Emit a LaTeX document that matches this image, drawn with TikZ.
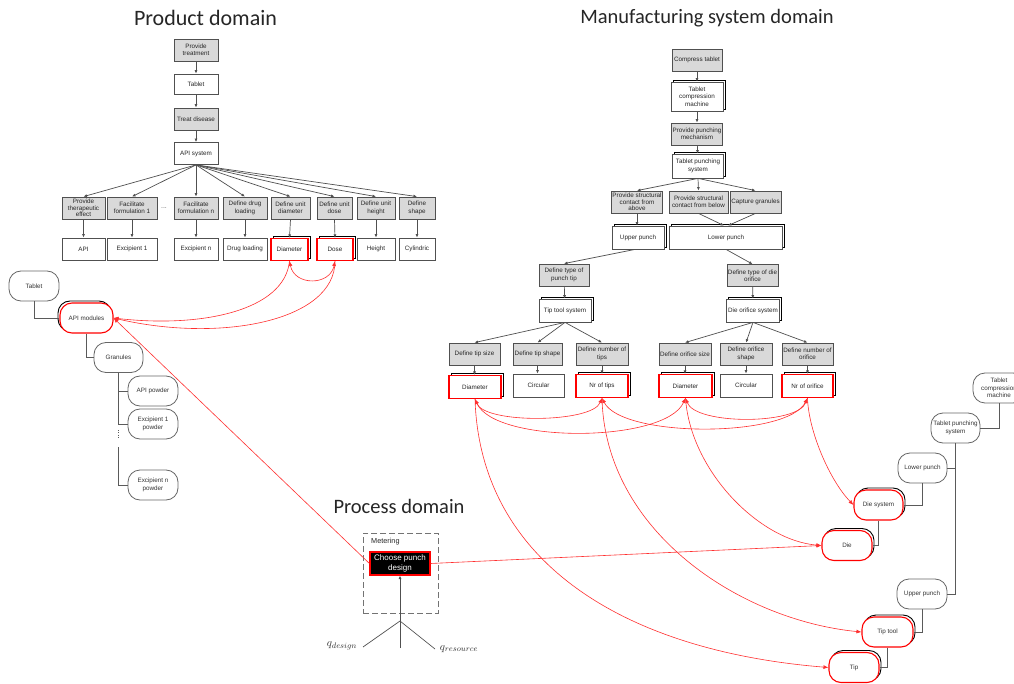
\documentclass[tikz,border=0pt]{standalone}
\usepackage{fontspec}
\setmainfont{Liberation Sans}
\newfontfamily\headfont{Carlito}
\usetikzlibrary{arrows.meta,shadows}
\definecolor{frfill}{HTML}{D9D9D9}
\definecolor{boxline}{HTML}{505050}
\definecolor{treeline}{HTML}{5A5A5A}
\definecolor{linkred}{HTML}{FF3030}
\definecolor{headtext}{HTML}{262626}
\tikzset{
  box/.style={draw=boxline, line width=0.8pt, fill=white, minimum height=22pt,
    inner sep=1pt, align=center, text=black!85,
    font=\fontsize{6.3}{7.3}\selectfont},
  frbox/.style={box, fill=frfill},
  stacked/.style={copy shadow={shadow xshift=2pt, shadow yshift=2pt, draw=black, fill=white, line width=0.9pt}},
  stackedleft/.style={copy shadow={shadow xshift=-2pt, shadow yshift=2pt, draw=black, fill=white, line width=0.9pt}},
  redbox/.style={draw=red, line width=1.1pt},
  pill/.style={draw=black!60, line width=0.8pt, fill=white, rounded corners=12pt,
    minimum height=30pt, minimum width=50pt, inner sep=1pt, align=center,
    text=black!80, font=\fontsize{6.3}{7.6}\selectfont},
  link/.style={draw=boxline, line width=0.7pt, -{Latex[length=3.5pt,width=3pt]}},
  tree/.style={draw=treeline, line width=0.8pt},
  couple/.style={draw=linkred, line width=0.6pt, -{Latex[length=5pt,width=4pt]}},
  couple2/.style={draw=linkred, line width=0.6pt, {Latex[length=5pt,width=4pt]}-{Latex[length=5pt,width=4pt]}},
  domaintitle/.style={font=\headfont\fontsize{20.5}{24}\selectfont, text=headtext, inner sep=0pt},
}
\begin{document}
\begin{tikzpicture}[x=1pt, y=-1pt]
\fill[white] (0,0) rectangle (1014,684);
\useasboundingbox (0,0) rectangle (1014,684);

% ---------- domain headings ----------
\node[domaintitle, font=\headfont\fontsize{22}{26}\selectfont] (tprod) at (205.5,18) {Product domain};
\node[domaintitle] (tman) at (707,18) {Manufacturing system domain};
\node[domaintitle] (tproc) at (399,506) {Process domain};

% ---------- product domain: FR/DP tree ----------
\node[frbox, minimum width=44pt] (pt) at (196,50) {Provide\\treatment};
\node[box, minimum width=44pt, minimum height=20pt] (ptab) at (196,84) {Tablet};
\node[frbox, minimum width=44pt] (ptd) at (196,119) {Treat disease};
\node[box, minimum width=44pt] (papi) at (196,153.5) {API system};

\node[frbox, minimum width=43pt, font=\fontsize{6.3}{6.5}\selectfont] (fa) at (83.5,208) {Provide\\therapeutic\\effect};
\node[frbox, minimum width=50pt] (fb) at (132,208) {Facilitate\\formulation 1};
\node[text=black!60, font=\fontsize{7}{8}\selectfont] (fdots) at (164,208) {...};
\node[frbox, minimum width=44pt] (fc) at (196,208) {Facilitate\\formulation n};
\node[frbox, minimum width=44pt] (fd) at (245,208) {Define drug\\loading};
\node[frbox, minimum width=39pt] (fe) at (290.5,208) {Define unit\\diameter};
\node[frbox, minimum width=35pt] (ff) at (334.5,208) {Define unit\\dose};
\node[frbox, minimum width=38pt] (fg) at (376,208) {Define unit\\height};
\node[frbox, minimum width=36pt] (fh) at (417,208) {Define\\shape};

\node[box, minimum width=43pt] (da) at (83.5,249) {API};
\node[box, minimum width=50pt] (db) at (132,249) {Excipient 1};
\node[box, minimum width=44pt] (dc) at (196,249) {Excipient n};
\node[box, minimum width=44pt] (dd) at (245,249) {Drug loading};
\node[box, stacked, redbox, minimum width=37pt] (de) at (289.5,249.5) {Diameter};
\node[box, stacked, redbox, minimum width=36pt] (df) at (335,249.5) {Dose};
\node[box, minimum width=38pt] (dg) at (376,249) {Height};
\node[box, minimum width=36pt] (dh) at (417,249) {Cylindric};

\draw[link] (pt) -- (ptab);
\draw[link] (ptab) -- (ptd);
\draw[link] (ptd) -- (papi);
\foreach \f/\d in {fa/da,fb/db,fc/dc,fd/dd,fe/de,ff/df,fg/dg,fh/dh}{
  \draw[link] (papi.south) -- (\f.north);
  \draw[link] (\f.south) -- (\d.north);
}

% ---------- product domain: module hierarchy ----------
\node[pill] (ltab) at (34,286) {Tablet};
\node[pill, stackedleft, redbox, minimum width=53pt] (lapi) at (86.5,318) {API modules};
\node[pill, minimum width=49pt] (lgran) at (118.5,357.5) {Granules};
\node[pill] (lapip) at (153,391) {API powder};
\node[pill] (lexa) at (153,424) {Excipient 1\\powder};
\node[pill] (lexn) at (153,485) {Excipient n\\powder};
\coordinate (gapa) at (118.5,430);
\coordinate (gapb) at (118.5,439);
\coordinate (gapc) at (118.5,447);

\draw[tree] (ltab.south) |- (lapi.west);
\draw[tree] (lapi.south) |- (lgran.west);
\draw[tree] (lgran.south) |- (lapip.west);
\draw[tree] (lgran.south) |- (lexa.west);
\draw[tree, dash pattern=on 1pt off 1.3pt] (gapa) -- (gapb);
\draw[tree] (gapc) |- (lexn.west);

% ---------- manufacturing system domain: FR/DP tree ----------
\node[frbox, minimum width=50pt] (mct) at (697,60) {Compress tablet};
\node[box, stacked, minimum width=52pt, minimum height=29pt] (mtcm) at (697,96.5) {Tablet\\compression\\machine};
\node[frbox, minimum width=50pt] (mppm) at (697,134) {Provide punching\\mechanism};
\node[box, stacked, minimum width=51pt, minimum height=24pt] (mtps) at (698,166) {Tablet punching\\system};
\node[frbox, minimum width=50pt, font=\fontsize{6.3}{6.7}\selectfont] (msca) at (637,202) {Provide structural\\contact from\\above};
\node[frbox, minimum width=59pt] (mscb) at (698.5,202) {Provide structural\\contact from below};
\node[frbox, minimum width=51pt] (mcg) at (755.5,202) {Capture granules};
\node[box, stacked, minimum width=52pt, minimum height=23pt] (mup) at (638,237.5) {Upper punch};
\node[box, stacked, minimum width=113pt, minimum height=23pt] (mlp) at (726,237.5) {Lower punch};
\node[frbox, minimum width=50pt] (mdtp) at (564,275) {Define type of\\punch tip};
\node[frbox, minimum width=51pt] (mdto) at (752.5,275.5) {Define type of die\\orifice};
\node[box, stacked, minimum width=52pt, minimum height=23pt] (mtts) at (565,310.5) {Tip tool system};
\node[box, stacked, minimum width=53pt, minimum height=23pt] (mdos) at (753,310.5) {Die orifice system};

\node[frbox, minimum width=51pt] (mfa) at (474.5,354) {Define tip size};
\node[frbox, minimum width=49pt] (mfb) at (537.5,354) {Define tip shape};
\node[frbox, minimum width=52pt] (mfc) at (602,354) {Define number of\\tips};
\node[frbox, minimum width=52pt] (mfd) at (685,354) {Define orifice size};
\node[frbox, minimum width=52pt] (mfe) at (746,354) {Define orifice\\shape};
\node[frbox, minimum width=51pt] (mff) at (807.5,354) {Define number of\\orifice};

\node[box, stacked, redbox, minimum width=52pt, minimum height=23pt] (mda) at (475,387) {Diameter};
\node[box, minimum width=51pt, minimum height=23pt] (mdb) at (538.5,385.5) {Circular};
\node[box, stacked, redbox, minimum width=52pt, minimum height=23pt] (mdc) at (602,386) {Nr of tips};
\node[box, stacked, redbox, minimum width=53pt, minimum height=23pt] (mdd) at (685.5,386) {Diameter};
\node[box, minimum width=52pt, minimum height=23pt] (mde) at (746,385.5) {Circular};
\node[box, stacked, redbox, minimum width=51pt, minimum height=23pt] (mdf) at (807.5,386) {Nr of orifice};

\draw[link] (mct) -- (mtcm);
\draw[link] (mtcm) -- (mppm);
\draw[link] (mppm) -- (mtps);
\draw[link] (mtps.south) -- (msca.north);
\draw[link] (mtps.south) -- (mscb.north);
\draw[link] (mtps.south) -- (mcg.north);
\draw[link] (msca.south) -- (mup.north -| msca.south);
\draw[link] (mscb.south) -- ([xshift=-2pt]mlp.north);
\draw[link] (mcg.south) -- ([xshift=2pt]mlp.north);
\draw[link] ([xshift=-3pt]mup.south) -- (mdtp.north);
\draw[link] (mlp.south) -- (mdto.north);
\draw[link] (mdtp) -- (mtts);
\draw[link] (mdto) -- (mdos);
\foreach \f in {mfa,mfb,mfc}{\draw[link] (mtts.south) -- (\f.north);}
\foreach \f in {mfd,mfe,mff}{\draw[link] (mdos.south) -- (\f.north);}
\foreach \f/\d in {mfa/mda,mfb/mdb,mfc/mdc,mfd/mdd,mfe/mde,mff/mdf}{
  \draw[link] (\f.south) -- (\d.north -| \f.south);
}

% ---------- manufacturing system domain: module hierarchy ----------
\node[pill, minimum width=52pt] (rtcm) at (999,388) {Tablet\\compression\\machine};
\node[pill, minimum width=49pt] (rtps) at (955.5,428) {Tablet punching\\system};
\node[pill, minimum width=49pt] (rlp) at (922.5,468) {Lower punch};
\node[pill, stacked, redbox, minimum width=49pt] (rds) at (878.5,505) {Die system};
\node[pill, stacked, redbox] (rdie) at (847,545.5) {Die};
\node[pill] (rup) at (922,594) {Upper punch};
\node[pill, stacked, redbox, minimum width=51pt] (rtt) at (887.5,632) {Tip tool};
\node[pill, stacked, redbox] (rtip) at (854,667.5) {Tip};

\draw[tree] (rtcm.south) |- (rtps.east);
\draw[tree] (rtps.south) |- (rlp.east);
\draw[tree] (rtps.south) |- (rup.east);
\draw[tree] (rlp.south) |- (rds.east);
\draw[tree] (rds.south) |- (rdie.east);
\draw[tree] (rup.south) |- (rtt.east);
\draw[tree] (rtt.south) |- (rtip.east);

% ---------- process domain ----------
\node[draw=black!55, line width=1pt, dash pattern=on 6pt off 3pt,
      minimum width=75pt, minimum height=80pt] (meter) at (400.5,573) {};
\node[anchor=west, inner sep=0pt, text=black!85, font=\fontsize{7.3}{8}\selectfont] (meterlab) at (371,541.5) {Metering};
\node[box, fill=black, draw=red, line width=1.1pt, text=white, minimum width=60pt,
      minimum height=23pt, font=\fontsize{8}{9.5}\selectfont] (cpd) at (400,563.5) {Choose punch\\design};
\coordinate (qjoin) at (400,621);
\coordinate (qbase) at (400,648);
\coordinate (qleft) at (363,647);
\coordinate (qright) at (435,649);
\node[text=black!80, font=\fontsize{11}{13}\selectfont] (qdes) at (342,646) {$q_{design}$};
\node[text=black!80, font=\fontsize{11}{13}\selectfont] (qres) at (459,649) {$q_{resource}$};
\draw[link] (qbase) -- (cpd.south);
\draw[draw=boxline, line width=0.7pt] (qleft) -- (qjoin) -- (qright);

% ---------- couplings between the domains ----------
\draw[couple2] (de.south) .. controls +(5,25) and +(-5,25) .. (df.south);
\draw[couple] (de.south) .. controls +(-5,50) and +(87,10) .. (lapi.east);
\draw[couple] (df.south) .. controls +(0,60) and +(107,25) .. (lapi.east);
\draw[couple] (cpd.west) -- (lapi.east);
\draw[couple] (cpd.east) -- (rdie.west);

\draw[couple2] (mda.south) .. controls +(10,25) and +(-10,25) .. (mdc.south);
\draw[couple2] (mda.south) .. controls +(20,45) and +(-20,45) .. (mdd.south);
\draw[couple2] (mdc.south) .. controls +(20,40) and +(-20,40) .. (mdf.south);
\draw[couple2] (mdd.south) .. controls +(10,27) and +(-10,27) .. (mdf.south);

\draw[couple] (mda.south) .. controls +(5,160) and +(-209,-17) .. (rtip.west);
\draw[couple] (mdc.south) .. controls +(3,133) and +(-122,-12) .. (rtt.west);
\draw[couple] (mdd.south) .. controls +(5,73) and +(-62,-5) .. (rdie.west);
\draw[couple] (mdf.south) .. controls +(1,33) and +(-24,-25) .. (rds.west);
\end{tikzpicture}
\end{document}
